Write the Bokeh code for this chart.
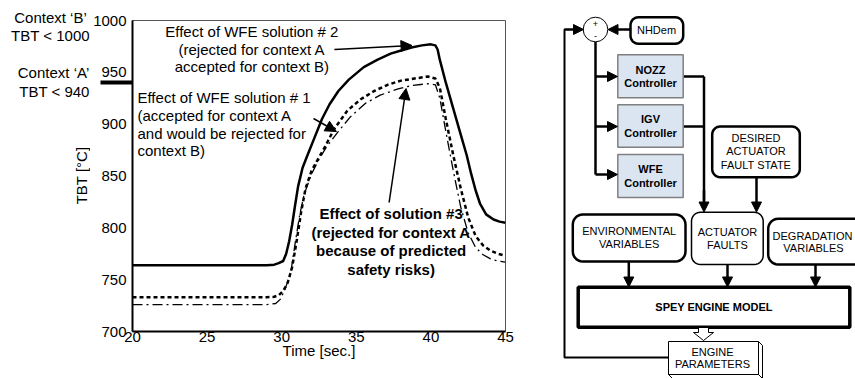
import numpy as np
from bokeh.plotting import figure
from bokeh.models import Range1d, FixedTicker, Label, Arrow, NormalHead, ColumnDataSource
from bokeh.layouts import row
from bokeh.embed import file_html
from bokeh.resources import INLINE
from bokeh.core.properties import value

FONT = "Liberation Sans"

# ---------------- data ----------------
x_ticks = [20, 25, 30, 35, 40, 45]
y_ticks = [700, 750, 800, 850, 900, 950, 1000]
context_a_limit = 940

# Effect of WFE solution #2 (solid)
time_wfe2 = [20, 29.0, 29.5, 29.8, 30.1, 30.3, 30.5, 30.7, 30.9, 31.1, 31.4, 31.7, 32.2, 32.7,
             33.2, 33.8, 34.5, 35.5, 36.4, 37.3, 38.0, 38.7, 39.4, 40.0, 40.3, 40.45, 40.6,
             41.0, 41.5, 42.0, 42.4, 42.7, 43.0, 43.3, 43.7, 44.2, 44.6, 45]
tbt_wfe2 = [764, 764, 764.5, 766, 768, 775, 787, 803, 822, 840, 858, 869, 887, 905,
            919, 932, 943, 955, 962, 968, 971, 974, 976, 977, 976, 972, 962,
            940, 915, 890, 870, 852, 836, 823, 813, 808, 806, 805]

# Effect of WFE solution #1 (dashed)
time_wfe1 = [20, 29.0, 29.5, 29.8, 30.1, 30.4, 30.7, 31.0, 31.3, 31.6, 32.0, 32.5, 32.9,
             33.5, 34.4, 35.3, 36.2, 37.1, 38.0, 38.9, 39.8, 40.3, 40.6, 41.0, 41.5, 42.0,
             42.5, 43.0, 43.5, 44.0, 44.5, 45]
tbt_wfe1 = [733, 733, 733.5, 735, 739, 747, 762, 787, 815, 838, 855, 868, 878,
            895, 913, 924, 932, 938, 942, 944, 946, 944, 935, 905, 870, 838,
            810, 792, 783, 778, 775, 773]

# Effect of solution #3 (dash-dot)
time_sol3 = [20, 29.0, 29.6, 29.9, 30.2, 30.6, 30.9, 31.2, 31.5, 32.0, 32.5, 33.0, 33.8,
             34.6, 35.6, 36.6, 37.8, 38.8, 39.8, 40.3, 40.6, 41.0, 41.5, 42.0, 42.5, 43.0,
             43.5, 44.0, 44.5, 45]
tbt_sol3 = [726, 726, 727, 731, 740, 756, 785, 812, 832, 852, 866, 878, 893,
            907, 920, 928, 934, 937.5, 939, 938, 925, 893, 855, 820, 795, 781,
            774, 770, 768, 767]

# ---------------- left panel: context texts + y title ----------------
p0 = figure(width=90, height=378, x_range=Range1d(0, 90), y_range=Range1d(378, 0),
            x_axis_type=None, y_axis_type=None, output_backend="svg", toolbar_location=None,
            min_border=0, outline_line_color=None, frame_align=False)
p0.grid.visible = False
ctx = dict(x=[50, 50, 53, 54], y=[17, 35, 72, 91],
           text=["Context \u2018B\u2019", "TBT < 1000", "Context \u2018A\u2019", "TBT < 940"])
p0.text(x="x", y="y", text="text", source=ColumnDataSource(ctx), text_align="center",
        text_baseline="middle", text_font=value(FONT), text_font_size=value("15px"),
        text_color="black")
p0.text(x=[80.5], y=[175], text=["TBT [\u00b0C]"], angle=np.pi / 2, text_align="center",
        text_baseline="middle", text_font=value(FONT), text_font_size=value("15px"),
        text_color="black")

# ---------------- chart ----------------
p1 = figure(width=448, height=378, x_range=Range1d(20, 45), y_range=Range1d(700, 1000),
            output_backend="svg", toolbar_location=None, frame_align=False,
            min_border_left=40, min_border_right=33, min_border_top=20, min_border_bottom=47)
p1.grid.visible = False
p1.outline_line_color = "#555555"
p1.outline_line_width = 1

p1.xaxis.ticker = FixedTicker(ticks=x_ticks)
p1.yaxis.ticker = FixedTicker(ticks=y_ticks, minor_ticks=[context_a_limit])
for ax in (p1.xaxis[0], p1.yaxis[0]):
    ax.axis_line_color = "black"
    ax.axis_line_width = 2
    ax.major_tick_out = 0
    ax.major_tick_in = 0
    ax.minor_tick_out = 0
    ax.minor_tick_in = 0
    ax.major_label_text_font = FONT
    ax.major_label_text_font_size = "15px"
    ax.major_label_text_color = "black"
p1.xaxis.major_label_standoff = 0
# thick marker of the context-A limit (a long minor tick); labels pulled back next to the axis
p1.yaxis.minor_tick_out = 32
p1.yaxis.minor_tick_line_width = 4
p1.yaxis.minor_tick_line_color = "black"
p1.yaxis.major_label_standoff = -26
p1.xaxis.axis_label = "Time [sec.]"
p1.xaxis.axis_label_text_font = FONT
p1.xaxis.axis_label_text_font_size = "15px"
p1.xaxis.axis_label_text_font_style = "normal"
p1.xaxis.axis_label_text_color = "black"
p1.xaxis.axis_label_standoff = -3

p1.line(time_wfe2, tbt_wfe2, line_color="black", line_width=2.5)
p1.line(time_wfe1, tbt_wfe1, line_color="black", line_width=2.5, line_dash="4 3")
p1.line(time_sol3, tbt_sol3, line_color="black", line_width=1.3, line_dash="10 4 2 4")


def tx(px):
    return 20 + (px - 130) / 15.0


def ty(py):
    return 1000 - (py - 20) * 300.0 / 311.0


def lab(px, py, text, align="center", bold=False, size="15px"):
    p1.add_layout(Label(x=tx(px), y=ty(py), text=text, text_align=align,
                        text_baseline="middle", text_font=FONT, text_font_size=size,
                        text_font_style="bold" if bold else "normal", text_color="black"))


for i, t in enumerate(["Effect of WFE solution # 2", "(rejected for context A",
                       "accepted for context B)"]):
    lab(250, 31 + i * 17.5, t)
for i, t in enumerate(["Effect of WFE solution # 1", " (accepted for context A",
                       "and would be rejected for", "context B)"]):
    lab(135, 97 + i * 17.8, t, align="left")
for i, t in enumerate(["Effect of solution #3", "(rejected for context A",
                       "because of predicted", "safety risks)"]):
    lab(390, 213 + i * 18.5, t, bold=True)


def parrow(x0, y0, x1, y1):
    p1.add_layout(Arrow(x_start=tx(x0), y_start=ty(y0), x_end=tx(x1), y_end=ty(y1),
                        line_width=1.5, line_color="black",
                        end=NormalHead(size=11, fill_color="black", line_color="black")))


parrow(333, 49, 411, 45)
parrow(312, 118, 335, 131)
parrow(388, 202, 405, 88)

# ---------------- block diagram ----------------
p2 = figure(width=317, height=378, x_range=Range1d(538, 855), y_range=Range1d(378, 0),
            x_axis_type=None, y_axis_type=None, output_backend="svg", toolbar_location=None,
            min_border=0, outline_line_color=None, frame_align=False)
p2.grid.visible = False

LW = 2.5


def poly_line(pts, lw=LW):
    xs, ys = zip(*pts)
    p2.line(list(xs), list(ys), line_color="black", line_width=lw)


def darrow(x0, y0, x1, y1, lw=LW):
    p2.add_layout(Arrow(x_start=x0, y_start=y0, x_end=x1, y_end=y1, line_width=lw,
                        line_color="black",
                        end=NormalHead(size=10, fill_color="black", line_color="black")))


def rrect(x0, y0, x1, y1, r, lw, fill="white", color="black"):
    xs, ys = [], []
    corners = [(x1 - r, y0 + r, -90, 0), (x1 - r, y1 - r, 0, 90),
               (x0 + r, y1 - r, 90, 180), (x0 + r, y0 + r, 180, 270)]
    for cx, cy, a0, a1 in corners:
        for a in np.linspace(np.radians(a0), np.radians(a1), 8):
            xs.append(cx + r * np.cos(a))
            ys.append(cy + r * np.sin(a))
    p2.patch(xs, ys, fill_color=fill, line_color=color, line_width=lw)


def box(x0, y0, x1, y1, lw, fill="white", color="black"):
    p2.quad(left=x0, right=x1, top=y0, bottom=y1, fill_color=fill, line_color=color,
            line_width=lw)


# connectors
poly_line([(668, 357), (564, 357), (564, 29), (575, 29)], lw=2)
darrow(564, 29, 583, 29, lw=2)
darrow(630, 29, 607.5, 29)
poly_line([(595, 41), (595, 174)])
for yy in (76, 126, 174):
    darrow(595, yy, 617, yy)
poly_line([(683, 76), (703.5, 76)])
poly_line([(683, 126), (703.5, 126)])
poly_line([(703.5, 76), (703.5, 200)])
darrow(703.5, 190, 703.5, 211.5)
darrow(756, 177, 756, 211.5)
darrow(628.3, 261, 628.3, 286.5)
darrow(727, 264, 727, 286.5)
darrow(815, 264, 815, 286.5)

# summing junction
p2.circle(x=[595], y=[29], radius=12.3, fill_color="white", line_color="black", line_width=1)

# boxes
rrect(630, 16.7, 682.7, 43.3, 8, LW)
ctrl_fill = "#dbe5f1"
box(617.3, 54.3, 682.7, 97.3, 1.5, fill=ctrl_fill, color="#7f7f7f")
box(617.3, 104.3, 682.7, 146.7, 1.5, fill=ctrl_fill, color="#7f7f7f")
box(617.3, 154, 682.7, 197, 1.5, fill=ctrl_fill, color="#7f7f7f")
rrect(711.7, 126, 799.3, 176.7, 8, LW)
rrect(572.3, 214, 685, 261, 10, LW)
rrect(691, 211.7, 762.7, 264, 9, 1.5)
rrect(767.7, 218.3, 866, 264, 10, LW)
box(577.7, 286.7, 849.3, 326.7, 3.5)
# engine parameters (3D box)
p2.patch([758, 762, 762, 758], [341, 345, 378, 374], fill_color="white", line_color="black",
         line_width=1)
p2.patch([668, 758, 762, 672], [374, 374, 378, 378], fill_color="white", line_color="black",
         line_width=1)
box(668, 341, 758, 374, 1)
# hollow block arrow
p2.patch([698, 708, 708, 713, 703, 693, 698], [327, 327, 332, 332, 340, 332, 332],
         fill_color="white", line_color="black", line_width=1)

# texts
plain = dict(
    x=[595, 595, 656, 755.5, 755.5, 755.5, 628.7, 628.7, 727, 727, 812, 813, 712, 712],
    y=[23.5, 35, 29, 137, 150.7, 164, 230.7, 243.3, 231.7, 244, 235, 247.3, 351.5, 363.5],
    text=["+", "-", "NHDem", "DESIRED", "ACTUATOR", "FAULT STATE", "ENVIRONMENTAL",
          "VARIABLES", "ACTUATOR", "FAULTS", "DEGRADATION", "VARIABLES", "ENGINE",
          "PARAMETERS"],
    size=["9px", "9px"] + ["11px"] * 12,
)
p2.text(x="x", y="y", text="text", source=ColumnDataSource(plain), text_align="center",
        text_baseline="middle", text_font=value(FONT), text_font_size="size",
        text_color="black")
bold = dict(
    x=[650, 650, 650, 650, 650, 650, 713.5],
    y=[69.5, 82, 118.5, 132, 168, 182, 306.5],
    text=["NOZZ", "Controller", "IGV", "Controller", "WFE", "Controller", "SPEY ENGINE MODEL"],
)
p2.text(x="x", y="y", text="text", source=ColumnDataSource(bold), text_align="center",
        text_baseline="middle", text_font=value(FONT), text_font_size=value("11px"),
        text_font_style="bold", text_color="black")

layout = row(p0, p1, p2, spacing=0)
open("out.html", "w").write(file_html(layout, INLINE))
